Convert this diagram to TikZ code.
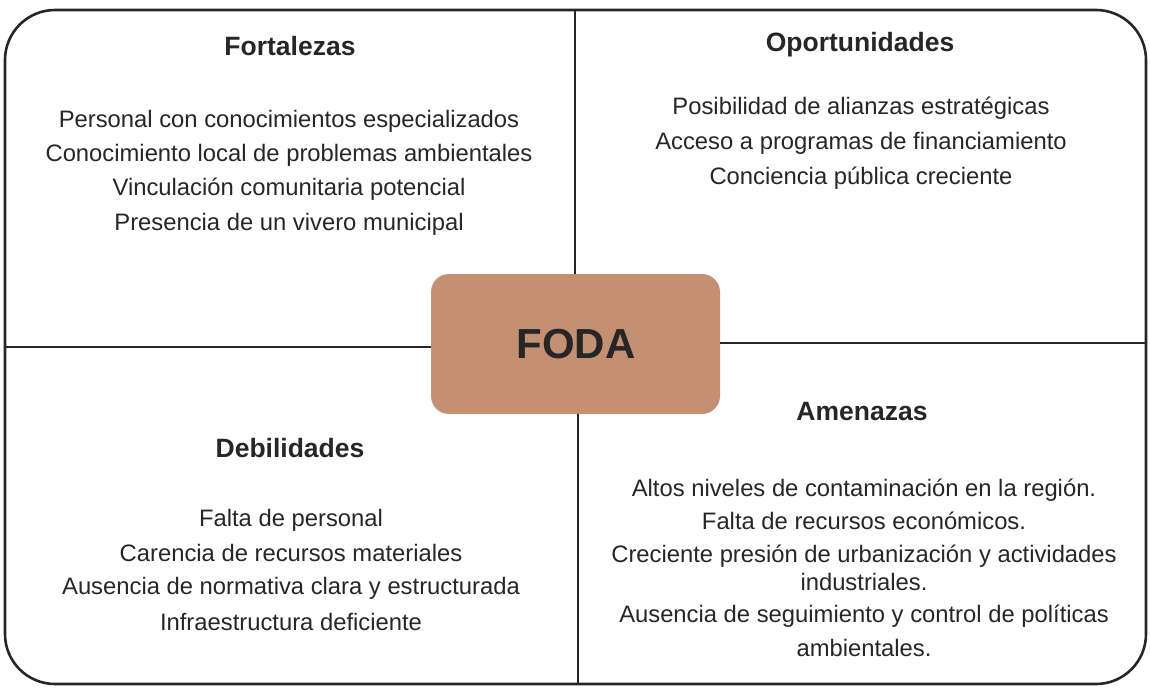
\documentclass[tikz,border=0pt]{standalone}
\usepackage{fontspec}
\setmainfont{Liberation Sans}
\definecolor{fodabrown}{HTML}{C58F72}
\definecolor{inkgray}{HTML}{262626}
\begin{document}
\begin{tikzpicture}[x=1pt,y=-1pt,
  item/.style={anchor=center,font=\fontsize{23.8}{27}\selectfont,text=inkgray,inner sep=0pt},
  head/.style={anchor=center,font=\fontsize{26.5}{30}\selectfont\bfseries,text=inkgray,inner sep=0pt},
  divider/.style={draw=inkgray,line width=1.8pt}]
\useasboundingbox (0,0) rectangle (1150,688);
\draw[draw=inkgray,line width=2.6pt,rounded corners=50pt] (5,10) rectangle (1146,684);
\node[draw=none,fill=fodabrown,rounded corners=18pt,minimum width=289pt,minimum height=140pt,inner sep=0pt] (foda) at (575.5,344) {};
\node[font=\fontsize{42}{46}\selectfont\bfseries,text=black!85] at (576,344) {FODA};
\coordinate (ttop) at (575,10);
\coordinate (bbot) at (578,684);
\coordinate (lleft) at (5,347);
\coordinate (rright) at (1146,343);
\draw[divider] (ttop) -- (575,274);
\draw[divider] (578,414) -- (bbot);
\draw[divider] (lleft) -- (431,347);
\draw[divider] (720,343) -- (rright);
% Fortalezas
\node[head] (f) at (290,46) {Fortalezas};
\node[item] at (289,121) {Personal con conocimientos especializados};
\node[item] at (289,155) {Conocimiento local de problemas ambientales};
\node[item] at (289,189) {Vinculación comunitaria potencial};
\node[item] at (289,224) {Presencia de un vivero municipal};
% Oportunidades
\node[head] (o) at (860,45) {Oportunidades};
\node[item] at (861,108) {Posibilidad de alianzas estratégicas};
\node[item] at (861,143) {Acceso a programas de financiamiento};
\node[item] at (861,178) {Conciencia pública creciente};
% Debilidades
\node[head] (d) at (290,448) {Debilidades};
\node[item] at (291,520) {Falta de personal};
\node[item] at (291,553) {Carencia de recursos materiales};
\node[item] at (291,588) {Ausencia de normativa clara y estructurada};
\node[item] at (291,622) {Infraestructura deficiente};
% Amenazas
\node[head] (a) at (862,412) {Amenazas};
\node[item] at (864,490) {Altos niveles de contaminación en la región.};
\node[item] at (864,521) {Falta de recursos económicos.};
\node[item] at (864,556) {Creciente presión de urbanización y actividades};
\node[item] at (864,582) {industriales.};
\node[item] at (864,616) {Ausencia de seguimiento y control de políticas};
\node[item] at (864,648) {ambientales.};
\end{tikzpicture}
\end{document}
